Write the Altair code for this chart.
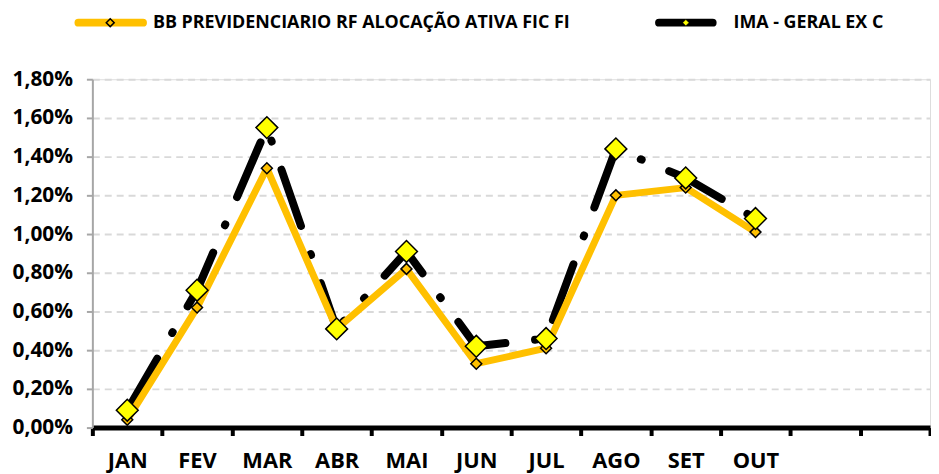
import altair as alt
import pandas as pd

months = ["JAN", "FEV", "MAR", "ABR", "MAI", "JUN", "JUL", "AGO", "SET", "OUT", "NOV", "DEZ"]
bb_fund = [0.04, 0.62, 1.34, 0.51, 0.82, 0.33, 0.41, 1.20, 1.24, 1.01]
ima_geral = [0.09, 0.71, 1.55, 0.51, 0.91, 0.42, 0.46, 1.44, 1.29, 1.08]
y_ticks = [0.0, 0.2, 0.4, 0.6, 0.8, 1.0, 1.2, 1.4, 1.6, 1.8]
name_bb = "BB PREVIDENCIARIO RF ALOCAÇÃO ATIVA FIC FI"
name_ima = "IMA - GERAL EX C"

df = pd.DataFrame({
    "mes": months[:len(bb_fund)],
    "bb": bb_fund,
    "ima": ima_geral,
})

ORANGE = "#FFC000"
YELLOW = "#FFFF00"
FONT = "Open Sans"

x_enc = alt.X(
    "mes:N",
    sort=months,
    scale=alt.Scale(domain=months, paddingInner=0, paddingOuter=0),
    axis=alt.Axis(
        title=None,
        labelAngle=0,
        labelExpr="(datum.label == 'NOV' || datum.label == 'DEZ') ? '' : datum.label",
        labelFont=FONT,
        labelFontSize=22,
        labelFontWeight="bold",
        labelColor="#000000",
        labelBaseline="alphabetic",
        labelPadding=32,
        labelOverlap=False,
        domainColor="#000000",
        domainWidth=5,
        tickColor="#000000",
        tickWidth=4,
        tickSize=8,
        tickBand="extent",
        grid=False,
    ),
)

y_scale = alt.Scale(domain=[0, 1.8], nice=False, zero=True)
y_axis = alt.Axis(
    title=None,
    values=y_ticks,
    labelExpr="replace(format(datum.value, '.2f'), '.', ',') + '%'",
    labelFont=FONT,
    labelFontSize=21,
    labelFontWeight="bold",
    labelColor="#000000",
    labelPadding=14,
    labelOverlap=False,
    labelFlush=False,
    domainColor="#A6A6A6",
    domainWidth=2,
    tickColor="#A6A6A6",
    tickWidth=2,
    tickSize=6,
    grid=True,
    gridColor="#D9D9D9",
    gridDash=[7, 5],
    gridWidth=2,
)


def yenc(field):
    return alt.Y(field, type="quantitative", scale=y_scale, axis=y_axis)


base = alt.Chart(df)

ima_line = base.mark_line(
    color="#000000", strokeWidth=8, strokeCap="round", strokeJoin="round",
    strokeDash=[60, 30, 1, 30],
).encode(x=x_enc, y=yenc("ima"))

bb_line = base.mark_line(
    color=ORANGE, strokeWidth=7, strokeJoin="round", strokeCap="round",
).encode(x=x_enc, y=yenc("bb"))

bb_pts = base.mark_point(
    shape="diamond", filled=True, fill=ORANGE, stroke="#000000", strokeWidth=1.5,
    size=121, opacity=1,
).encode(x=x_enc, y=yenc("bb"))

ima_pts = base.mark_point(
    shape="diamond", filled=True, fill=YELLOW, stroke="#000000", strokeWidth=1.5,
    size=484, opacity=1,
).encode(x=x_enc, y=yenc("ima"))

one = alt.Data(values=[{"k": 1}])
LEG_Y = -57

leg1_line = alt.Chart(one).mark_rule(
    color=ORANGE, strokeWidth=8, strokeCap="round"
).encode(x=alt.value(-14), x2=alt.value(51), y=alt.value(LEG_Y))
leg1_pt = alt.Chart(one).mark_point(
    shape="diamond", filled=True, fill=ORANGE, stroke="#000000", strokeWidth=1.5,
    size=64, opacity=1,
).encode(x=alt.value(18), y=alt.value(LEG_Y))
leg1_txt = alt.Chart(one).mark_text(
    text=name_bb, align="left", baseline="middle", font=FONT,
    fontSize=18, fontWeight="bold", color="#000000",
).encode(x=alt.value(61), y=alt.value(LEG_Y))

leg2_line = alt.Chart(one).mark_rule(
    color="#000000", strokeWidth=8, strokeCap="round"
).encode(x=alt.value(571), x2=alt.value(625), y=alt.value(LEG_Y))
leg2_pt = alt.Chart(one).mark_point(
    shape="diamond", filled=True, fill=YELLOW, stroke="#000000", strokeWidth=0.5,
    size=40, opacity=1,
).encode(x=alt.value(598), y=alt.value(LEG_Y))
leg2_txt = alt.Chart(one).mark_text(
    text=name_ima, align="left", baseline="middle", font=FONT,
    fontSize=18, fontWeight="bold", color="#000000",
).encode(x=alt.value(646), y=alt.value(LEG_Y))

chart = alt.layer(
    ima_line, bb_line, bb_pts, ima_pts,
    leg1_line, leg1_pt, leg1_txt, leg2_line, leg2_pt, leg2_txt,
).properties(
    width=844,
    height=351,
    autosize=alt.AutoSizeParams(type="none"),
    padding={"left": 85, "top": 70, "right": 1, "bottom": 44},
).configure_view(stroke=None).configure(background="#FFFFFF")

chart.save("out.html", embed_options={"renderer": "svg", "actions": False})
